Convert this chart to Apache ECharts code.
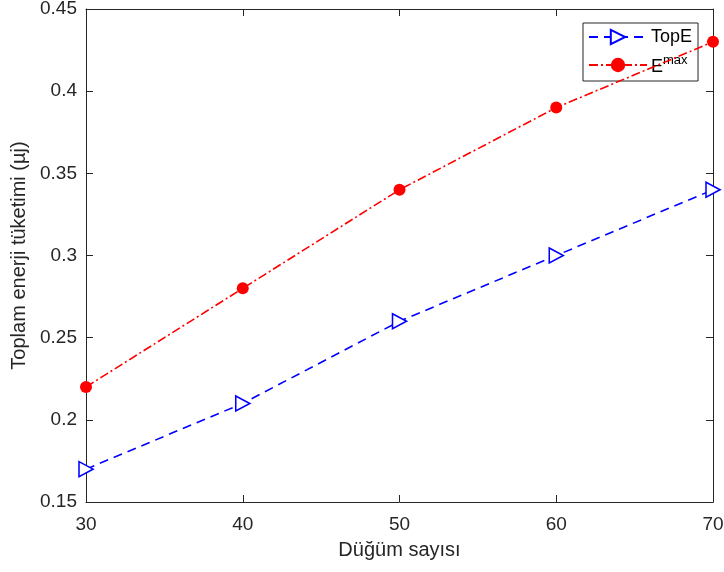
<!DOCTYPE html>
<html>
<head>
<meta charset="utf-8">
<script src="https://cdn.jsdelivr.net/npm/echarts@6/dist/echarts.min.js"></script>
<style>
  html, body { margin: 0; padding: 0; background: #fff; }
  #chart { width: 724px; height: 572px; }
</style>
</head>
<body>
<div id="chart"></div>
<script>
// Node counts on the x axis
const nodeCounts = [30, 40, 50, 60, 70];
// Total energy consumption for each method
const topE = [0.17, 0.21, 0.26, 0.30, 0.34];
const eMax = [0.22, 0.28, 0.34, 0.39, 0.43];
// Axis tick values
const xTicks = [30, 40, 50, 60, 70];
const yTicks = [0.15, 0.2, 0.25, 0.3, 0.35, 0.4, 0.45];

const font = 'Liberation Sans, Arial, sans-serif';
const ink = '#262626';
const chart = echarts.init(document.getElementById('chart'));

// Shared styling for the boxed axes (ticks point inward on all four sides)
const tick = { inside: true, length: 7, lineStyle: { color: ink } };
const line = { onZero: false, lineStyle: { color: ink } };

chart.setOption({
  animation: false,
  backgroundColor: '#fff',
  grid: { left: 86, top: 9, right: 11, bottom: 70, outerBoundsMode: 'none', containLabel: false },
  legend: {
    left: 583, top: 23,
    orient: 'vertical',
    backgroundColor: '#fff',
    borderColor: ink, borderWidth: 1, borderRadius: 0,
    padding: [5, 6, 5, 5],
    itemWidth: 58, itemHeight: 18, itemGap: 8,
    textStyle: {
      fontFamily: font, fontSize: 18, color: '#000', padding: [0, 0, 0, -1],
      rich: {
        b: { fontFamily: font, fontSize: 18, color: '#000', lineHeight: 22, verticalAlign: 'bottom' },
        s: { fontFamily: font, fontSize: 13, color: '#000', lineHeight: 14, verticalAlign: 'top' }
      }
    },
    formatter: function (name) {
      return name === 'Emax' ? '{b|E}{s|max}' : name;
    },
    data: ['TopE', 'Emax']
  },
  xAxis: [
    {
      type: 'value', min: 30, max: 70, interval: 10,
      name: 'Düğüm sayısı', nameLocation: 'middle', nameGap: 38,
      nameTextStyle: { fontFamily: font, fontSize: 20, color: ink },
      axisLine: line, axisTick: tick,
      axisLabel: { fontFamily: font, fontSize: 19, color: ink, margin: 13,
        formatter: v => xTicks.includes(v) ? String(v) : '' },
      splitLine: { show: false }
    },
    {
      type: 'value', min: 30, max: 70, interval: 10, position: 'top',
      axisLine: line, axisTick: tick, axisLabel: { show: false }, splitLine: { show: false }
    }
  ],
  yAxis: [
    {
      type: 'value', min: 0.15, max: 0.45, interval: 0.05,
      name: 'Toplam enerji tüketimi (µj)', nameLocation: 'middle', nameGap: 50,
      nameTextStyle: { fontFamily: font, fontSize: 20, color: ink },
      axisLine: line, axisTick: tick,
      axisLabel: { fontFamily: font, fontSize: 19, color: ink, margin: 9,
        formatter: v => {
          const t = yTicks.find(y => Math.abs(y - v) < 1e-9);
          return t === undefined ? '' : String(Math.round(t * 100) / 100);
        } },
      splitLine: { show: false }
    },
    {
      type: 'value', min: 0.15, max: 0.45, interval: 0.05, position: 'right',
      axisLine: line, axisTick: tick, axisLabel: { show: false }, splitLine: { show: false }
    }
  ],
  series: [
    {
      name: 'TopE', type: 'line',
      data: nodeCounts.map((x, i) => [x, topE[i]]),
      symbol: 'path://M0,0 L14,7 L0,14 Z', symbolSize: [14, 15],
      showAllSymbol: true,
      itemStyle: { color: '#fff', borderColor: '#0000ff', borderWidth: 1.6 },
      lineStyle: { color: '#0000ff', width: 1.6, type: [9, 6] },
      z: 3
    },
    {
      name: 'Emax', type: 'line',
      data: nodeCounts.map((x, i) => [x, eMax[i]]),
      symbol: 'circle', symbolSize: 12,
      itemStyle: { color: '#ff0000', borderColor: '#ff0000', borderWidth: 0 },
      lineStyle: { color: '#ff0000', width: 1.6, type: [9, 3, 2, 3] },
      z: 4
    }
  ]
});
</script>
</body>
</html>
